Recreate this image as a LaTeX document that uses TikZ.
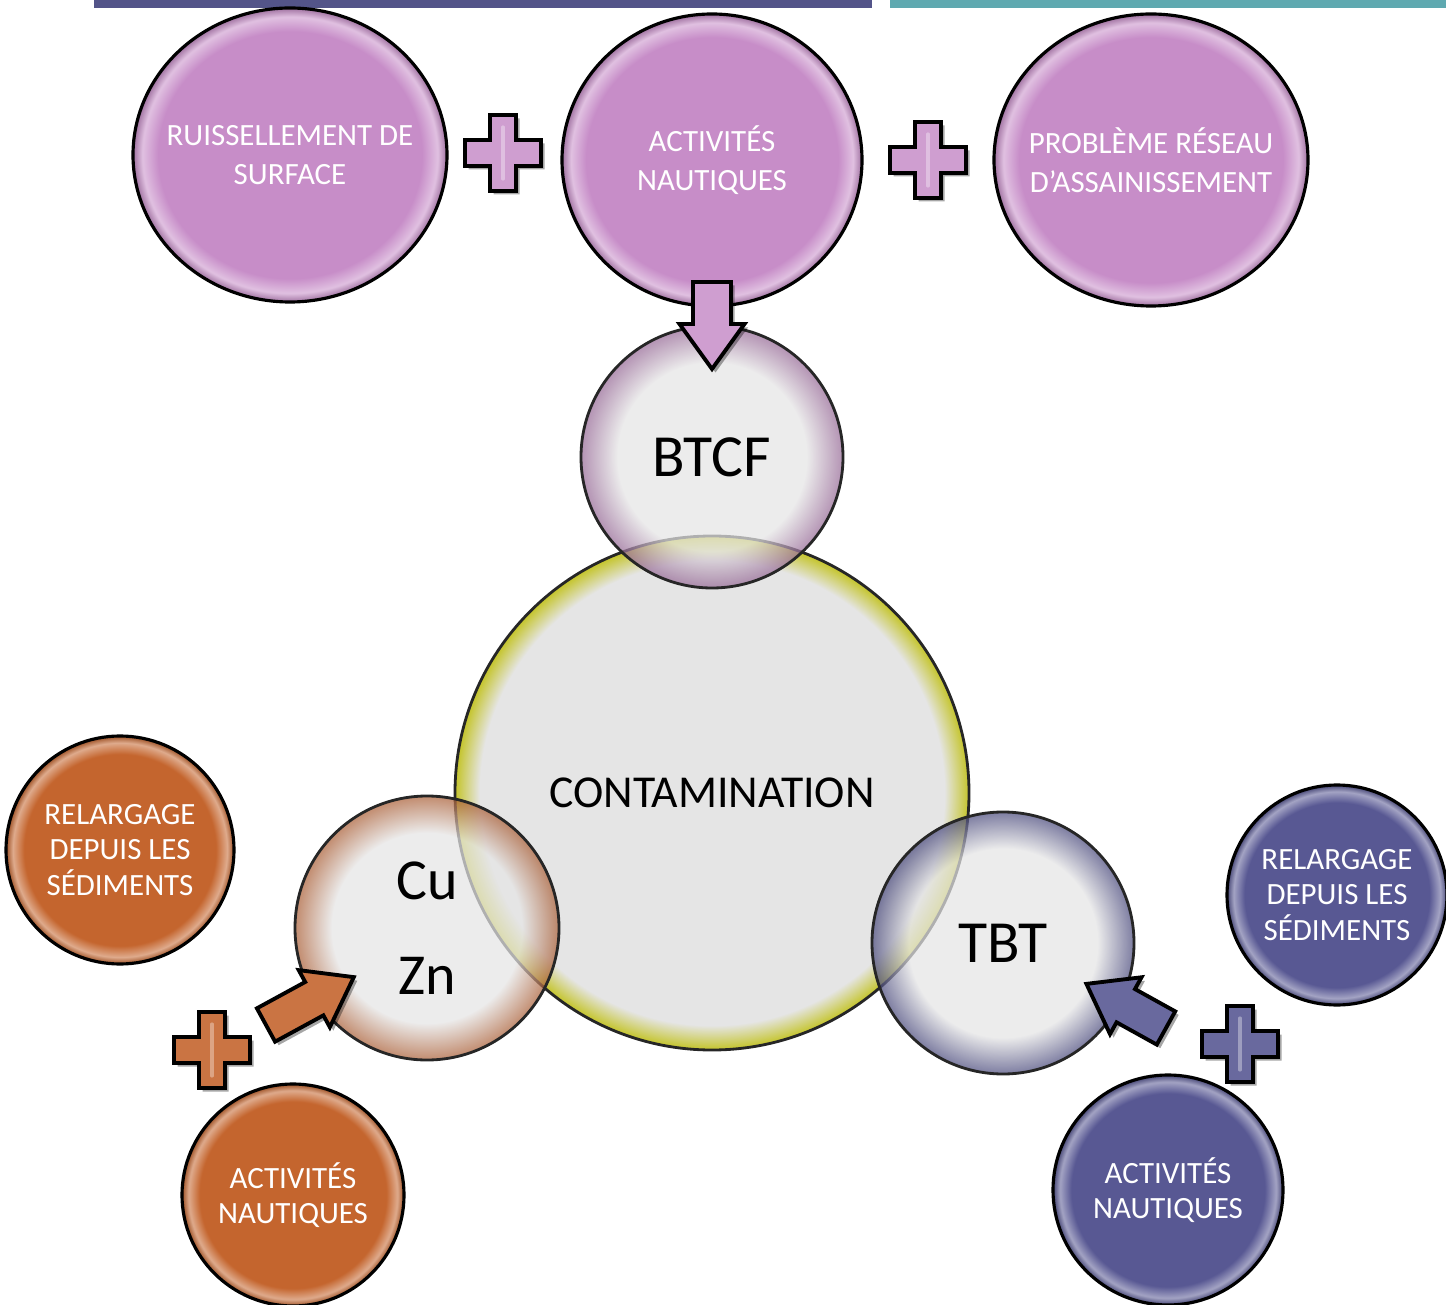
\documentclass[tikz,border=0pt]{standalone}
\usepackage{fontspec}
\setmainfont{Carlito}
\usetikzlibrary{shapes.geometric, shadows}

\definecolor{barblue}{RGB}{83,84,137}
\definecolor{barteal}{RGB}{95,169,176}
\definecolor{mauve}{RGB}{199,141,200}
\definecolor{rust}{RGB}{196,101,46}
\definecolor{indigo}{RGB}{88,88,147}
\definecolor{bubble}{RGB}{229,229,229}
\definecolor{rimolive}{RGB}{196,196,40}
\definecolor{rimmauve}{RGB}{150,105,150}
\definecolor{rimrust}{RGB}{170,95,55}
\definecolor{rimindigo}{RGB}{75,75,125}

% rims of the grey bubbles
\pgfdeclareradialshading{rimO}{\pgfpointorigin}{color(0bp)=(bubble); color(22.6bp)=(bubble); color(25bp)=(rimolive); color(50bp)=(rimolive)}
\pgfdeclareradialshading{rimM}{\pgfpointorigin}{color(0bp)=(bubble); color(18bp)=(bubble); color(25bp)=(rimmauve); color(50bp)=(rimmauve)}
\pgfdeclareradialshading{rimR}{\pgfpointorigin}{color(0bp)=(bubble); color(18bp)=(bubble); color(25bp)=(rimrust); color(50bp)=(rimrust)}
\pgfdeclareradialshading{rimI}{\pgfpointorigin}{color(0bp)=(bubble); color(18bp)=(bubble); color(25bp)=(rimindigo); color(50bp)=(rimindigo)}
% glossy coloured discs
\pgfdeclareradialshading{glossM}{\pgfpointorigin}{color(0bp)=(mauve); color(21bp)=(mauve); color(23.5bp)=(mauve!55!white); color(25bp)=(mauve!80!black); color(50bp)=(mauve!80!black)}
\pgfdeclareradialshading{glossR}{\pgfpointorigin}{color(0bp)=(rust); color(21bp)=(rust); color(23.5bp)=(rust!55!white); color(25bp)=(rust!80!black); color(50bp)=(rust!80!black)}
\pgfdeclareradialshading{glossI}{\pgfpointorigin}{color(0bp)=(indigo); color(21bp)=(indigo); color(23.5bp)=(indigo!55!white); color(25bp)=(indigo!80!black); color(50bp)=(indigo!80!black)}

\tikzset{
  disc/.style={circle, draw=black, line width=0.9pt, inner sep=0pt, text=white, align=center,
    font=\fontsize{8.8}{10}\selectfont, shade, shading=#1},
  oval/.style={ellipse, draw=black, line width=0.9pt, inner xsep=-0.3cm, inner ysep=0pt, text=white, align=center,
    font=\fontsize{8.8}{11}\selectfont, shade, shading=glossM},
  bubblenode/.style={circle, draw=black!85, line width=0.8pt, inner sep=0pt, shade, shading=#1,
    fill opacity=0.72, text opacity=1, align=center},
  tileshadow/.style={drop shadow={shadow xshift=0.035, shadow yshift=-0.035, opacity=0.35, fill=black}},
  pics/plussign/.style={code={
    \path[pic actions, tileshadow] (-0.13,0.38) -- (0.13,0.38) -- (0.13,0.13) -- (0.38,0.13) -- (0.38,-0.13)
      -- (0.13,-0.13) -- (0.13,-0.38) -- (-0.13,-0.38) -- (-0.13,-0.13) -- (-0.38,-0.13) -- (-0.38,0.13)
      -- (-0.13,0.13) -- cycle;
    \draw[white, opacity=0.35, line width=0.9pt, line cap=round] (0,0.26) -- (0,-0.26);
  }},
  pics/blockarrow/.style={code={
    \path[pic actions, tileshadow] (0,0.19) -- ({#1-0.45},0.19) -- ({#1-0.45},0.325) -- (#1,0)
      -- ({#1-0.45},-0.325) -- ({#1-0.45},-0.19) -- (0,-0.19) -- cycle;
  }},
}

\begin{document}
\begin{tikzpicture}
\useasboundingbox (0,0) rectangle (14.46,13.04);

\fill[barblue] (0.94,12.96) rectangle (8.72,13.04);
\fill[barteal] (8.90,12.96) rectangle (14.46,13.04);

% sources of BTCF
\node[oval, minimum width=3.14cm, minimum height=2.94cm] (runoff) at (2.90,11.49) {RUISSELLEMENT DE\\SURFACE};
\node[oval, minimum width=3.00cm, minimum height=2.92cm] (boatingTop) at (7.12,11.44) {ACTIVITÉS\\NAUTIQUES};
\node[oval, minimum width=3.14cm, minimum height=2.92cm] (sewer) at (11.51,11.44) {PROBLÈME RÉSEAU\\D’ASSAINISSEMENT};
\pic[fill=mauve!85!white, draw=black, line width=1.1pt] at (5.03,11.51) {plussign};
\pic[fill=mauve!85!white, draw=black, line width=1.1pt] at (9.28,11.44) {plussign};

% contaminants
\node[bubblenode=rimO, minimum size=5.14cm, fill opacity=1, font=\fontsize{13}{15}\selectfont] (contam) at (7.12,5.11) {CONTAMINATION};
\node[bubblenode=rimM, minimum size=2.62cm, font=\fontsize{17}{20}\selectfont] (btcf) at (7.12,8.47) {BTCF};
\node[bubblenode=rimR, minimum size=2.64cm, font=\fontsize{16.5}{27}\selectfont] (cuzn) at (4.27,3.76) {Cu\\Zn};
\node[bubblenode=rimI, minimum size=2.62cm, font=\fontsize{17}{20}\selectfont] (tbt) at (10.03,3.61) {TBT};

% sources of Cu / Zn
\node[disc=glossR, minimum size=2.28cm] (releaseCu) at (1.20,4.54) {RELARGAGE\\DEPUIS LES\\SÉDIMENTS};
\node[disc=glossR, minimum size=2.22cm] (boatingCu) at (2.93,1.09) {ACTIVITÉS\\NAUTIQUES};
\pic[fill=rust!90!white, draw=black, line width=1.1pt] at (2.12,2.54) {plussign};
\pic[fill=rust!90!white, draw=black, line width=1.1pt, rotate=28.6] at (2.66,2.79) {blockarrow=1.0};

% sources of TBT
\node[disc=glossI, minimum size=2.20cm] (releaseTbt) at (13.37,4.09) {RELARGAGE\\DEPUIS LES\\SÉDIMENTS};
\node[disc=glossI, minimum size=2.30cm] (boatingTbt) at (11.68,1.14) {ACTIVITÉS\\NAUTIQUES};
\pic[fill=indigo!90!white, draw=black, line width=1.1pt] at (12.40,2.60) {plussign};
\pic[fill=indigo!90!white, draw=black, line width=1.1pt, rotate=151] at (11.66,2.76) {blockarrow=0.91};

\pic[fill=mauve!85!white, draw=black, line width=1.1pt, rotate=-90] at (7.12,10.22) {blockarrow=0.87};

\end{tikzpicture}
\end{document}
